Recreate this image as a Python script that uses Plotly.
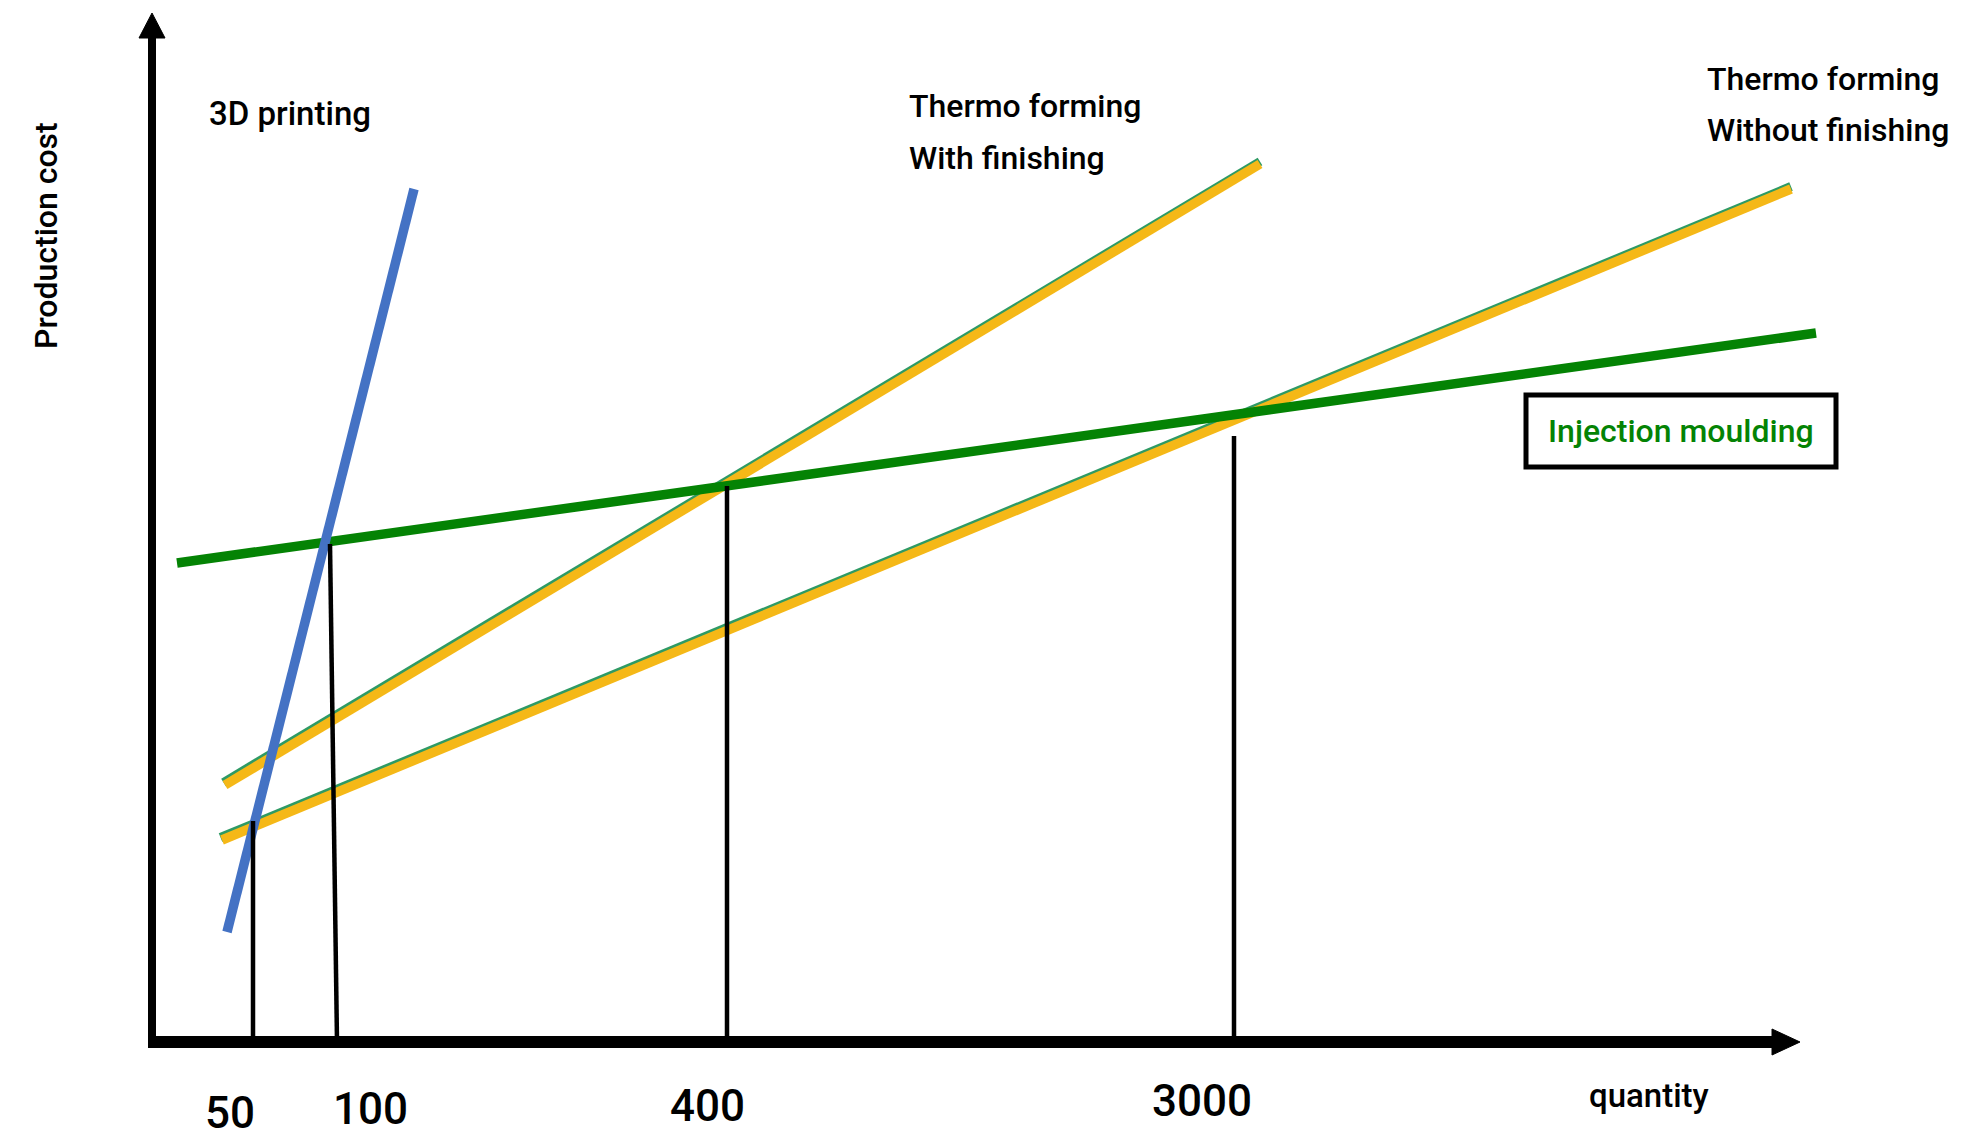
import plotly.graph_objects as go

W, H = 1980, 1140
FONT = "Roboto, Inter, sans-serif"

# Schematic axes: quantity position (x) and production cost (y), arbitrary units
X_RANGE = [-15.2, 182.8]
Y_RANGE = [-9.8, 104.2]

# Cost lines, given by their two end points
printing_x = [7.5, 26.2]
printing_y = [11.0, 85.3]
thermo_finish_x = [7.3, 110.8]
thermo_finish_y = [25.7, 87.8]
thermo_plain_x = [7.0, 163.9]
thermo_plain_y = [20.2, 85.3]
moulding_x = [2.5, 166.4]
moulding_y = [47.9, 70.9]

# Break-even drop lines and their quantity labels
breakeven_labels = ["50", "100", "400", "3000"]
breakeven_x_top = [10.1, 17.8, 57.5, 108.2]
breakeven_x_base = [10.1, 18.5, 57.5, 108.2]
breakeven_y_top = [22.1, 49.8, 55.6, 60.6]

BLUE = "#4472C4"
ORANGE = "#F5B817"
EDGE_GREEN = "#2E9A64"
GREEN = "#048304"


def paper_x(px):
    return px / W


def paper_y(py):
    return 1 - py / H


fig = go.Figure()

# thin green edge under the orange thermo-forming lines
for xs, ys in [(thermo_finish_x, thermo_finish_y), (thermo_plain_x, thermo_plain_y)]:
    fig.add_trace(go.Scatter(x=[xs[0] - 0.15, xs[1]], y=[ys[0] + 0.25, ys[1] + 0.25], mode="lines",
                             line=dict(color=EDGE_GREEN, width=9), hoverinfo="skip"))
    fig.add_trace(go.Scatter(x=xs, y=ys, mode="lines",
                             line=dict(color=ORANGE, width=9.5), hoverinfo="skip"))

fig.add_trace(go.Scatter(x=moulding_x, y=moulding_y, mode="lines",
                         line=dict(color=GREEN, width=9.5), hoverinfo="skip"))
fig.add_trace(go.Scatter(x=printing_x, y=printing_y, mode="lines",
                         line=dict(color=BLUE, width=9.5), hoverinfo="skip"))

# vertical break-even lines down to the quantity axis
for xt, xb, yt in zip(breakeven_x_top, breakeven_x_base, breakeven_y_top):
    fig.add_trace(go.Scatter(x=[xt, xb], y=[yt, 0], mode="lines",
                             line=dict(color="black", width=4.5), hoverinfo="skip"))

shapes = [
    # quantity axis
    dict(type="line", xref="x", yref="y", x0=0.3, y0=0, x1=162.6, y1=0,
         line=dict(color="black", width=12)),
    dict(type="path", xref="x", yref="y", path="M 162.0 1.3 L 164.8 0 L 162.0 -1.3 Z",
         fillcolor="black", line=dict(color="black", width=1)),
    # cost axis
    dict(type="line", xref="x", yref="y", x0=0, y0=-0.6, x1=0, y1=100.8,
         line=dict(color="black", width=8)),
    dict(type="path", xref="x", yref="y", path="M -1.3 100.4 L 0 102.9 L 1.3 100.4 Z",
         fillcolor="black", line=dict(color="black", width=1)),
    # legend box around injection moulding
    dict(type="rect", xref="paper", yref="paper",
         x0=paper_x(1526), y0=paper_y(467), x1=paper_x(1836), y1=paper_y(395),
         line=dict(color="black", width=5), fillcolor="white", layer="below"),
]

annotations = []


def label(text, x, y, size, color="black", xanchor="center", yanchor="middle", angle=0):
    annotations.append(dict(text=text, x=paper_x(x), y=paper_y(y), xref="paper", yref="paper",
                            showarrow=False, xanchor=xanchor, yanchor=yanchor, textangle=angle,
                            font=dict(family=FONT, size=size, color=color, weight=500)))


label("3D printing", 207, 114, 33, xanchor="left")
label("Thermo forming", 907, 106, 32, xanchor="left")
label("With finishing", 907, 158, 32, xanchor="left")
label("Thermo forming", 1705, 79, 32, xanchor="left")
label("Without finishing", 1705, 130, 32, xanchor="left")
label("Injection moulding", 1681, 431, 32, color=GREEN)
label("Production cost", 46, 236, 32, angle=-90)
label("quantity", 1649, 1095, 33)

label_pos = [(230, 1113), (370, 1109), (707, 1106), (1202, 1101)]
for text, (lx, ly) in zip(breakeven_labels, label_pos):
    label(text, lx, ly, 44)

fig.update_layout(
    width=W, height=H,
    margin=dict(l=0, r=0, t=0, b=0),
    paper_bgcolor="white", plot_bgcolor="white",
    showlegend=False,
    xaxis=dict(range=X_RANGE, visible=False, fixedrange=True),
    yaxis=dict(range=Y_RANGE, visible=False, fixedrange=True),
    shapes=shapes,
    annotations=annotations,
)

fig.write_html("out.html")
